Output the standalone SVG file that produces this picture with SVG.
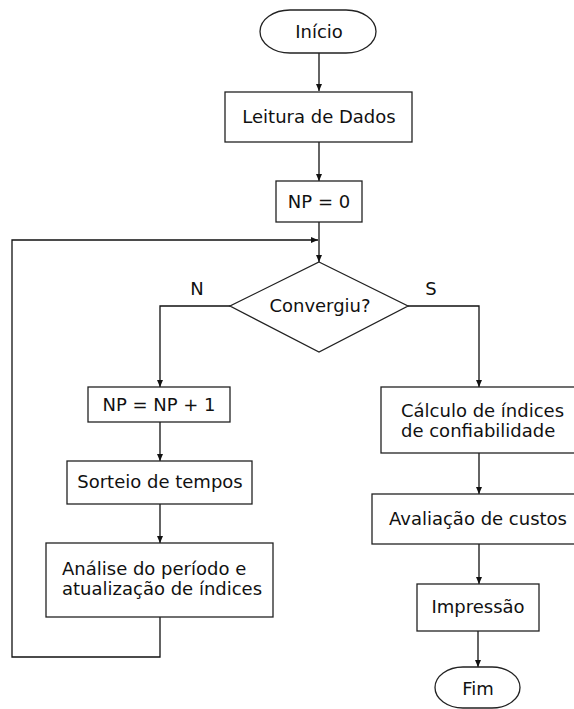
<svg xmlns="http://www.w3.org/2000/svg" width="574" height="709" viewBox="0 0 574 709">
<style>
.box{fill:#fff;stroke:#222;stroke-width:1.3}
.t{font-family:"DejaVu Sans",Verdana,sans-serif;font-size:18px;fill:#111}
.c{text-anchor:middle}
.ln{fill:none;stroke:#111;stroke-width:1.3}
</style>
<defs>
<marker id="ah" markerWidth="8" markerHeight="8" refX="7" refY="4" orient="auto" markerUnits="userSpaceOnUse">
<path d="M0,1 L7,4 L0,7 Z" fill="#111"/>
</marker>
</defs>
<rect width="574" height="709" fill="#fff"/>
<g id="connectors">
<path class="ln" d="M319,53 V91" marker-end="url(#ah)"/>
<path class="ln" d="M319,142 V181" marker-end="url(#ah)"/>
<path class="ln" d="M319,222 V262" marker-end="url(#ah)"/>
<path class="ln" d="M160,617 V657 H12 V240 H318" marker-end="url(#ah)"/>
<path class="ln" d="M230,306 H160 V387" marker-end="url(#ah)"/>
<path class="ln" d="M160,422 V461" marker-end="url(#ah)"/>
<path class="ln" d="M160,504 V543" marker-end="url(#ah)"/>
<path class="ln" d="M408,306 H479 V387" marker-end="url(#ah)"/>
<path class="ln" d="M479,453 V494" marker-end="url(#ah)"/>
<path class="ln" d="M479,544 V584" marker-end="url(#ah)"/>
<path class="ln" d="M478,631 V667" marker-end="url(#ah)"/>
</g>
<g id="inicio">
<rect class="box" x="260" y="10" width="116" height="43" rx="30" ry="21.5"/>
<text class="t c" x="319" y="38">Início</text>
</g>
<g id="leitura">
<rect class="box" x="225" y="92" width="187" height="50"/>
<text class="t c" x="319" y="123">Leitura de Dados</text>
</g>
<g id="np0">
<rect class="box" x="276" y="181" width="86" height="41"/>
<text class="t c" x="319" y="208">NP = 0</text>
</g>
<g id="convergiu">
<polygon class="box" points="319,262 408,306 319,352 230,306"/>
<text class="t c" x="320" y="312">Convergiu?</text>
</g>
<g id="labelN"><text class="t c" x="197" y="295">N</text></g>
<g id="labelS"><text class="t c" x="431" y="295">S</text></g>
<g id="npinc">
<rect class="box" x="88" y="387" width="142" height="35"/>
<text class="t c" x="159" y="411">NP = NP + 1</text>
</g>
<g id="sorteio">
<rect class="box" x="67" y="461" width="185" height="43"/>
<text class="t c" x="160" y="488">Sorteio de tempos</text>
</g>
<g id="analise">
<rect class="box" x="46" y="543" width="227" height="74"/>
<text class="t" x="62" y="575">Análise do período e</text>
<text class="t" x="62" y="595">atualização de índices</text>
</g>
<g id="calculo">
<rect class="box" x="381" y="387" width="196" height="66"/>
<text class="t" x="401" y="417">Cálculo de índices</text>
<text class="t" x="401" y="437">de confiabilidade</text>
</g>
<g id="avaliacao">
<rect class="box" x="372" y="494" width="212" height="50"/>
<text class="t c" x="478" y="525">Avaliação de custos</text>
</g>
<g id="impressao">
<rect class="box" x="417" y="584" width="122" height="47"/>
<text class="t c" x="478" y="613">Impressão</text>
</g>
<g id="fim">
<rect class="box" x="435" y="667" width="85" height="41" rx="28" ry="20.5"/>
<text class="t c" x="478" y="695">Fim</text>
</g>
</svg>
